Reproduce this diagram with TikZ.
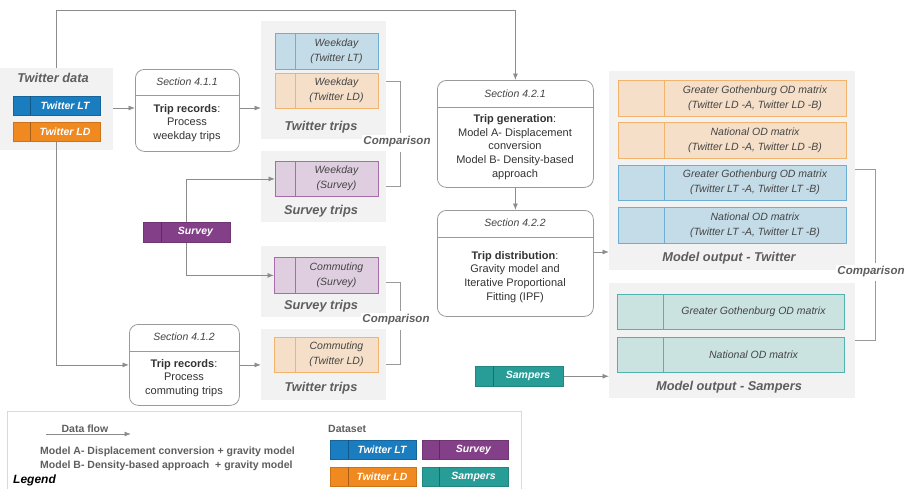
\documentclass[tikz,border=0pt]{standalone}
\usepackage{fontspec}
\setmainfont{Liberation Sans}
\usetikzlibrary{arrows.meta,calc}
\definecolor{cLT}{HTML}{1A7DC0}
\definecolor{cLD}{HTML}{F0891F}
\definecolor{cSV}{HTML}{833F87}
\definecolor{cSP}{HTML}{289C96}
\definecolor{lLT}{HTML}{C4DCE7}
\definecolor{bLT}{HTML}{6BAED6}
\definecolor{lLD}{HTML}{F5DFC8}
\definecolor{bLD}{HTML}{F3B36C}
\definecolor{lSV}{HTML}{DECEE0}
\definecolor{bSV}{HTML}{A66DAA}
\definecolor{lSP}{HTML}{CAE3E1}
\definecolor{bSP}{HTML}{52B3AE}
\definecolor{panelgray}{HTML}{F2F2F2}
\definecolor{linegray}{HTML}{8C8C8C}
\definecolor{secgray}{HTML}{9A9A9A}
\definecolor{titlegray}{HTML}{5E5E5E}
\definecolor{bodytext}{HTML}{333333}
\definecolor{itgray}{HTML}{444444}
\tikzset{
  panel/.style={fill=panelgray, draw=none, inner sep=0pt, anchor=north west},
  ptitle/.style={font=\fontsize{12.8}{14}\selectfont\bfseries\itshape, text=titlegray, inner sep=0pt},
  cmp/.style={font=\fontsize{11.5}{13}\selectfont\bfseries\itshape, text=titlegray, fill=white, inner sep=1.5pt},
  dtext/.style={font=\fontsize{10.5}{12}\selectfont\bfseries\itshape, text=white, inner sep=0pt},
  itext/.style={font=\fontsize{10.5}{15}\selectfont\itshape, text=itgray, align=center, inner sep=0pt},
  LTbox/.style={fill=cLT, draw=cLT!80!black, line width=0.5pt, inner sep=0pt},
  LTdiv/.style={draw=cLT!70!black, line width=0.5pt},
  LDbox/.style={fill=cLD, draw=cLD!85!black, line width=0.5pt, inner sep=0pt},
  LDdiv/.style={draw=cLD!70!black, line width=0.5pt},
  SVbox/.style={fill=cSV, draw=cSV!85!black, line width=0.5pt, inner sep=0pt},
  SVdiv/.style={draw=cSV!70!black, line width=0.5pt},
  SPbox/.style={fill=cSP, draw=cSP!85!black, line width=0.5pt, inner sep=0pt},
  SPdiv/.style={draw=cSP!70!black, line width=0.5pt},
  lLTbox/.style={fill=lLT, draw=bLT, line width=0.8pt, inner sep=0pt},
  lLTdiv/.style={draw=bLT, line width=0.8pt},
  lLDbox/.style={fill=lLD, draw=bLD, line width=0.8pt, inner sep=0pt},
  lLDdiv/.style={draw=bLD, line width=0.8pt},
  lSVbox/.style={fill=lSV, draw=bSV, line width=0.8pt, inner sep=0pt},
  lSVdiv/.style={draw=bSV, line width=0.8pt},
  lSPbox/.style={fill=lSP, draw=bSP, line width=0.8pt, inner sep=0pt},
  lSPdiv/.style={draw=bSP, line width=0.8pt},
  sec/.style={draw=secgray, line width=0.8pt, rounded corners=9pt, fill=white, inner sep=0pt, anchor=north west},
  secdiv/.style={draw=secgray, line width=0.8pt},
  sechead/.style={font=\fontsize{10.5}{12}\selectfont\itshape, text=itgray, inner sep=0pt},
  secbody/.style={font=\fontsize{11}{13.8}\selectfont, text=bodytext, align=center, inner sep=0pt},
  arr/.style={draw=linegray, line width=0.8pt, -{Latex[length=6.5pt,width=5pt]}},
  conn/.style={draw=secgray, line width=0.8pt},
  legtext/.style={font=\fontsize{10.5}{12}\selectfont\bfseries, text=titlegray, inner sep=0pt},
}
% #1 name, #2 style prefix, #3 x1, #4 y1, #5 x2, #6 y2, #7 divider offset, #8 text style, #9 text
\newcommand{\dbox}[9]{%
  \node[#2box, minimum width={(#5-#3)*1pt}, minimum height={(#6-#4)*1pt}, anchor=north west] (#1) at (#3,#4) {};
  \draw[#2div] (#3+#7,#4) -- (#3+#7,#6);
  \node[#8] (#1-t) at ({(#3+#7+#5)/2},{(#4+#6)/2}) {#9};
}
\newcommand{\pbox}[5]{% name, x1, y1, x2, y2
  \node[panel, minimum width={(#4-#2)*1pt}, minimum height={(#5-#3)*1pt}] (#1) at (#2,#3) {};
}
\begin{document}
\begin{tikzpicture}[x=1pt,y=-1pt]
\useasboundingbox (0,0) rectangle (911,488);

% ---------- panels ----------
\pbox{tdata}{0}{68}{113}{150}
\pbox{ttripsA}{261}{21}{386}{139}
\pbox{stripsA}{261}{151}{386}{222}
\pbox{stripsB}{261}{246}{386}{317}
\pbox{ttripsB}{261}{329}{386}{400}
\pbox{mtw}{609}{71}{855}{270}
\pbox{msp}{609}{283}{855}{398}

\node[ptitle] (tdata-l) at (53,78) {Twitter data};
\node[ptitle] (ttripsA-l) at (321,127) {Twitter trips};
\node[ptitle] (stripsA-l) at (321,211) {Survey trips};
\node[ptitle] (stripsB-l) at (321,306) {Survey trips};
\node[ptitle] (ttripsB-l) at (321,388) {Twitter trips};
\node[ptitle] (mtw-l) at (729,258) {Model output - Twitter};
\node[ptitle] (msp-l) at (729,387) {Model output - Sampers};

% ---------- dataset boxes ----------
\dbox{tlt}{LT}{13}{96}{100}{115}{17}{dtext}{Twitter LT}
\dbox{tld}{LD}{13}{122}{100}{141}{17}{dtext}{Twitter LD}
\dbox{survey}{SV}{143}{222}{230}{242}{18}{dtext}{Survey}
\dbox{samp}{SP}{475}{366}{563}{386}{18}{dtext}{Sampers}

% ---------- trip boxes ----------
\dbox{wlt}{lLT}{275}{33}{378}{69}{20}{itext}{Weekday\\(Twitter LT)}
\dbox{wld}{lLD}{275}{73}{378}{108}{20}{itext}{Weekday\\(Twitter LD)}
\dbox{wsv}{lSV}{275}{161}{378}{196}{20}{itext}{Weekday\\(Survey)}
\dbox{csv}{lSV}{274}{257}{378}{293}{21}{itext}{Commuting\\(Survey)}
\dbox{cld}{lLD}{274}{337}{378}{372}{21}{itext}{Commuting\\(Twitter LD)}

% ---------- OD boxes ----------
\dbox{od1}{lLD}{618}{80}{846}{116}{46}{itext}{Greater Gothenburg OD matrix\\(Twitter LD -A, Twitter LD -B)}
\dbox{od2}{lLD}{618}{122}{846}{158}{46}{itext}{National OD matrix\\(Twitter LD -A, Twitter LD -B)}
\dbox{od3}{lLT}{618}{165}{846}{200}{46}{itext}{Greater Gothenburg OD matrix\\(Twitter LT -A, Twitter LT -B)}
\dbox{od4}{lLT}{618}{207}{846}{243}{46}{itext}{National OD matrix\\(Twitter LT -A, Twitter LT -B)}
\dbox{sp1}{lSP}{617}{294}{844}{329}{46}{itext}{Greater Gothenburg OD matrix}
\dbox{sp2}{lSP}{617}{337}{844}{372}{46}{itext}{National OD matrix}

% ---------- section boxes ----------
\node[sec, minimum width=104pt, minimum height=82pt] (s411) at (135,69) {};
\draw[secdiv] (135,95) -- (239,95);
\node[sechead] (s411-h) at (187,82) {Section 4.1.1};
\node[secbody] (s411-b) at (187,123) {\textbf{Trip records}:\\Process\\weekday trips};

\node[sec, minimum width=110pt, minimum height=81pt] (s412) at (129,324) {};
\draw[secdiv] (129,351) -- (239,351);
\node[sechead] (s412-h) at (184,337) {Section 4.1.2};
\node[secbody] (s412-b) at (184,378) {\textbf{Trip records}:\\Process\\commuting trips};

\node[sec, minimum width=156pt, minimum height=107pt] (s421) at (437,80) {};
\draw[secdiv] (437,107) -- (593,107);
\node[sechead] (s421-h) at (515,93.5) {Section 4.2.1};
\node[secbody] (s421-b) at (515,147) {\textbf{Trip generation}:\\Model A- Displacement\\conversion\\Model B- Density-based\\approach};

\node[sec, minimum width=156pt, minimum height=106pt] (s422) at (437,210) {};
\draw[secdiv] (437,237) -- (593,237);
\node[sechead] (s422-h) at (515,223) {Section 4.2.2};
\node[secbody] (s422-b) at (515,277) {\textbf{Trip distribution}:\\Gravity model and\\Iterative Proportional\\Fitting (IPF)};

% ---------- connectors ----------
\draw[arr] (tdata.north) -- ++(0,-58) -| (s421.north);
\draw[arr] (tdata.east |- 0,108) -- (s411.west |- 0,108);
\draw[arr] (s411.east |- 0,108) -- (ttripsA.west |- 0,108);
\draw[arr] (tld.south) |- (s412.west);
\draw[arr] (s412.east) -- (s412.east -| ttripsB.west);
\draw[arr] (survey.north) |- (wsv.west);
\draw[arr] (survey.south) |- (csv.west);
\draw[arr] (s421.south) -- (s422.north);
\draw[arr] (s422.east |- 0,252) -- (mtw.west |- 0,252);
\draw[arr] (samp.east) -- (samp.east -| msp.west);

% ---------- comparison brackets ----------
\draw[conn] (ttripsA.east |- 0,81) -| (400,133) (400,152) |- (stripsA.east |- 0,186);
\node[cmp] (cmpA) at (397,142) {Comparison};
\draw[conn] (stripsB.east |- 0,282) -| (400,311) (400,330) |- (ttripsB.east |- 0,364);
\node[cmp] (cmpB) at (396,320) {Comparison};
\draw[conn] (mtw.east |- 0,169) -| (875,263) (875,281) |- (msp.east |- 0,340);
\node[cmp] (cmpC) at (871,272) {Comparison};

% ---------- legend ----------
\draw[draw=black!15, line width=0.8pt] (7,490) -- (7,411) -- (521,411) -- (521,490);
\node[legtext] (df-t) at (85,429) {Data flow};
\coordinate (df1) at (46,434);
\coordinate (df2) at (131,434);
\draw[arr] (df1) -- (df2);
\node[legtext, anchor=west] (ma) at (40,452) {Model A- Displacement conversion + gravity model};
\node[legtext, anchor=west] (mb) at (40,466) {Model B- Density-based approach\ \ + gravity model};
\node[font=\fontsize{12}{14}\selectfont\bfseries\itshape, text=black, anchor=west, inner sep=0pt] (leg) at (13,480) {Legend};
\node[legtext, anchor=west] (ds) at (328,429) {Dataset};
\dbox{glt}{LT}{330}{440}{416}{459}{18}{dtext}{Twitter LT}
\dbox{gsv}{SV}{422}{440}{508}{459}{17}{dtext}{Survey}
\dbox{gld}{LD}{330}{467}{416}{486}{18}{dtext}{Twitter LD}
\dbox{gsp}{SP}{422}{467}{508}{486}{17}{dtext}{Sampers}
\end{tikzpicture}
\end{document}
